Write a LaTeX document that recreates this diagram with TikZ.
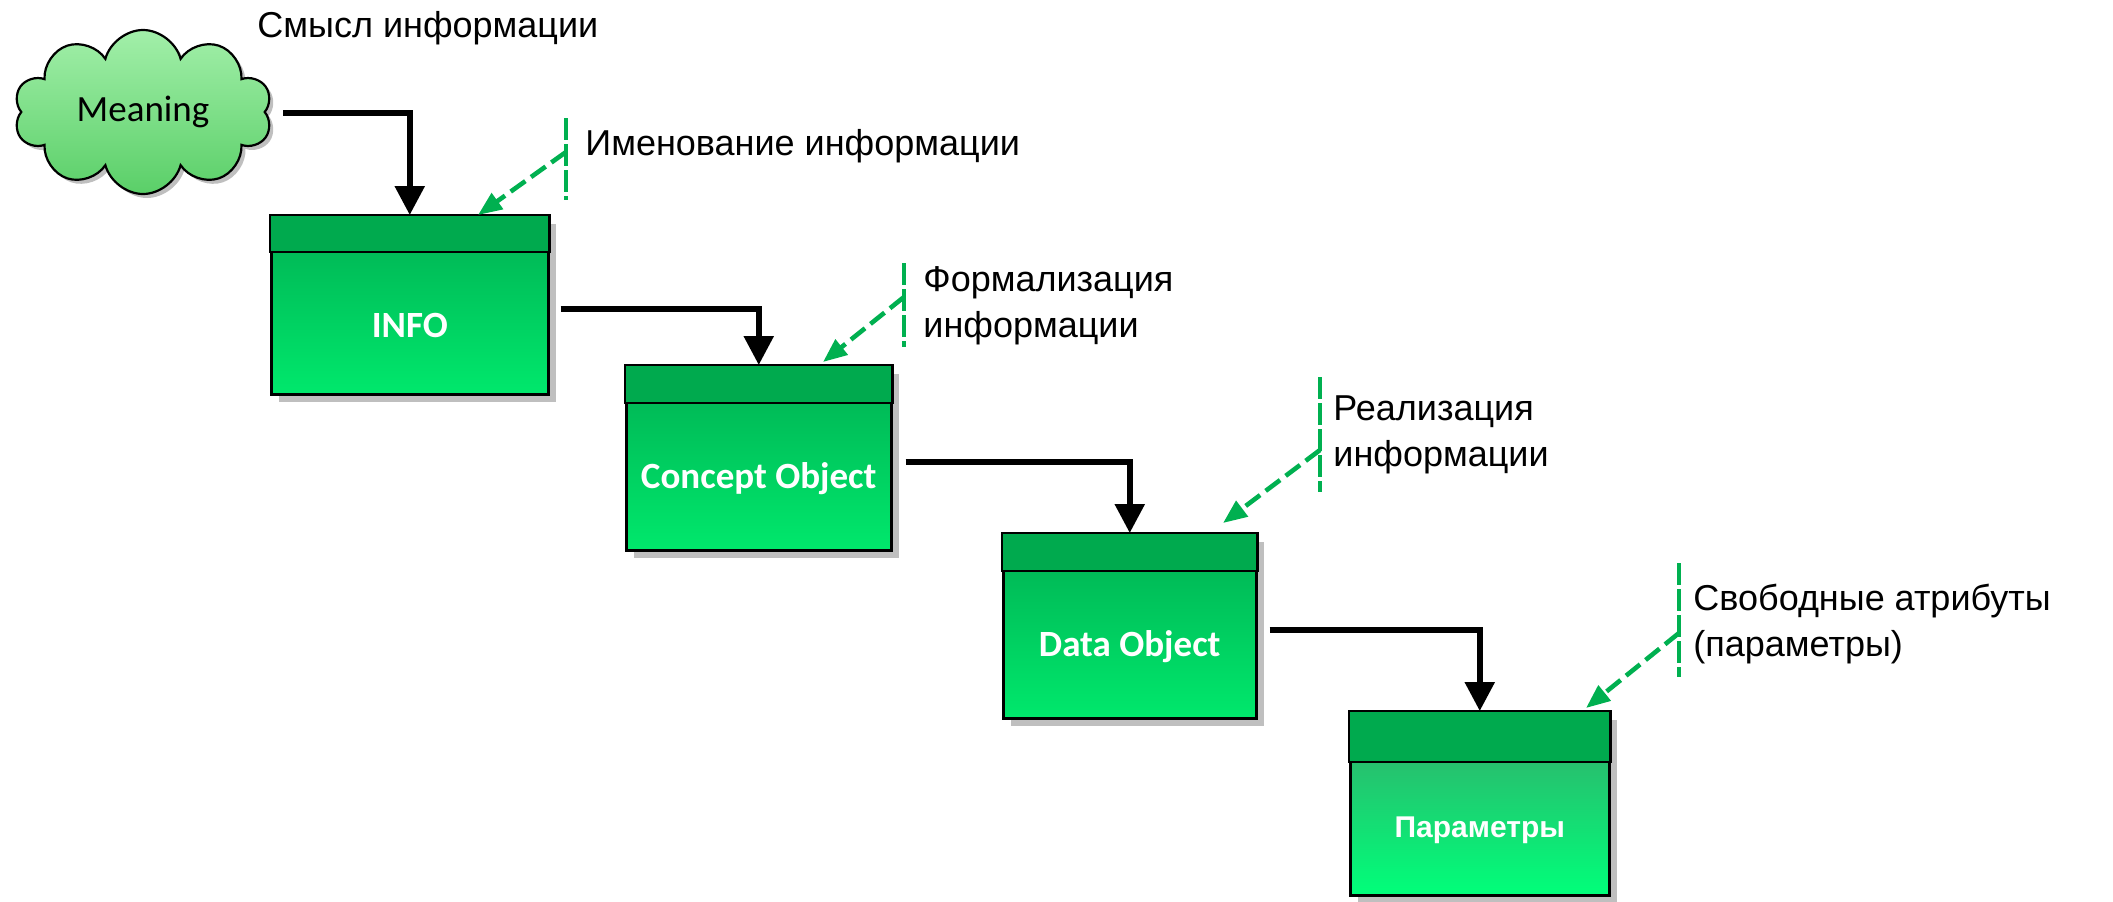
\documentclass[tikz,border=0pt]{standalone}
\usepackage{fontspec}
\setmainfont{Liberation Sans}
\newfontfamily\carlito{Carlito}
\usetikzlibrary{shapes.symbols,arrows.meta,calc,shadows}
\definecolor{hdrgreen}{HTML}{00AA4E}
\definecolor{bodytop}{HTML}{00B052}
\definecolor{bodybot}{HTML}{00E86C}
\definecolor{ptop}{HTML}{35A96A}
\definecolor{pbot}{HTML}{00FF7A}
\definecolor{cloudtop}{HTML}{A2EFA9}
\definecolor{cloudbot}{HTML}{5ACF68}
\definecolor{dgreen}{HTML}{00B050}
\definecolor{shadowgray}{HTML}{BFBFBF}
\tikzset{
  box/.style={draw=black, line width=1.25pt, anchor=north west, inner sep=0pt,
    top color=bodytop, bottom color=bodybot,
    drop shadow={shadow xshift=4pt, shadow yshift=-4pt, fill=shadowgray, opacity=1}},
  hdr/.style={draw=black, line width=1.25pt, fill=hdrgreen},
  boxtext/.style={text=white, inner sep=0pt, font=\carlito\bfseries\fontsize{18.5}{22}\selectfont},
  paramtext/.style={text=white, inner sep=0pt, font=\bfseries\fontsize{15}{18}\selectfont},
  lbl/.style={anchor=base west, align=left, inner sep=0pt, font=\fontsize{18}{23}\selectfont},
  flow/.style={line width=2.8pt, -{Triangle[length=14.5pt,width=14.5pt]}},
  note/.style={dgreen, line width=2.3pt, dash pattern=on 9pt off 3.5pt, -{Triangle[length=12pt,width=9.5pt]}},
  tick/.style={dgreen, line width=2.3pt, dash pattern=on 11pt off 2pt},
}
\begin{document}
\begin{tikzpicture}[x=0.5pt,y=-0.5pt]
\useasboundingbox (0,0) rectangle (2113,901);

% cloud
\node[cloud, cloud puffs=10, aspect=1.55, draw, line width=1.1pt,
  top color=cloudtop, bottom color=cloudbot, minimum width=129pt, minimum height=82pt, inner sep=0pt,
  drop shadow={shadow xshift=2pt, shadow yshift=-2pt, fill=shadowgray, opacity=1},
  font=\carlito\fontsize{18.5}{22}\selectfont] (meaning) at (143,112) {Meaning};

% boxes
\node[box, minimum width=138.5pt, minimum height=89pt] (info) at (270,215) {};
\draw[hdr] (info.north west) rectangle ($(info.north east)+(0,37)$);
\node[boxtext] (infoT) at ($(info.south)+(0,-70.5)$) {INFO};

\node[box, minimum width=132.5pt, minimum height=92pt] (concept) at (625,365) {};
\draw[hdr] (concept.north west) rectangle ($(concept.north east)+(0,38)$);
\node[boxtext] (conceptT) at ($(concept.south)+(0,-73)$) {Concept Object};

\node[box, minimum width=126.5pt, minimum height=92pt] (data) at (1002,533) {};
\draw[hdr] (data.north west) rectangle ($(data.north east)+(0,38)$);
\node[boxtext] (dataT) at ($(data.south)+(0,-73)$) {Data Object};

\node[box, top color=ptop, bottom color=pbot, minimum width=129.5pt, minimum height=91.5pt] (params) at (1349,711) {};
\draw[hdr] (params.north west) rectangle ($(params.north east)+(0,51)$);
\node[paramtext] (paramsT) at ($(params.south)+(0,-66)$) {Параметры};

% flow arrows
\draw[flow] ($(meaning.east)+(17,1)$) -| (info.north);
\draw[flow] ($(info.east)+(11,4)$) -| (concept.north);
\draw[flow] ($(concept.east)+(13,4)$) -| (data.north);
\draw[flow] ($(data.east)+(12,4)$) -| (params.north);

% labels
\node[lbl] (l0) at (257,37) {Смысл информации};

\coordinate (t1a) at (566,118); \coordinate (t1b) at (566,200); \coordinate (t1m) at (566,152);
\draw[tick] (t1a) -- (t1b);
\draw[note] (t1m) -- ($(info.north west)+(208,0)$);
\node[lbl] (l1) at (585,155) {Именование информации};

\coordinate (t2a) at (904,263); \coordinate (t2b) at (904,347); \coordinate (t2m) at (904,297);
\draw[tick] (t2a) -- (t2b);
\draw[note] (t2m) -- ($(concept.north west)+(198,-3)$);
\node[lbl] (l2) at (923,337) {Формализация\\информации};

\coordinate (t3a) at (1320,377); \coordinate (t3b) at (1320,492); \coordinate (t3m) at (1320,450);
\draw[tick] (t3a) -- (t3b);
\draw[note] (t3m) -- ($(data.north west)+(221,-10)$);
\node[lbl] (l3) at (1333,466) {Реализация\\информации};

\coordinate (t4a) at (1679,563); \coordinate (t4b) at (1679,677); \coordinate (t4m) at (1679,633);
\draw[tick] (t4a) -- (t4b);
\draw[note] (t4m) -- ($(params.north west)+(237,-3)$);
\node[lbl] (l4) at (1693,656) {Свободные атрибуты\\(параметры)};
\end{tikzpicture}
\end{document}
